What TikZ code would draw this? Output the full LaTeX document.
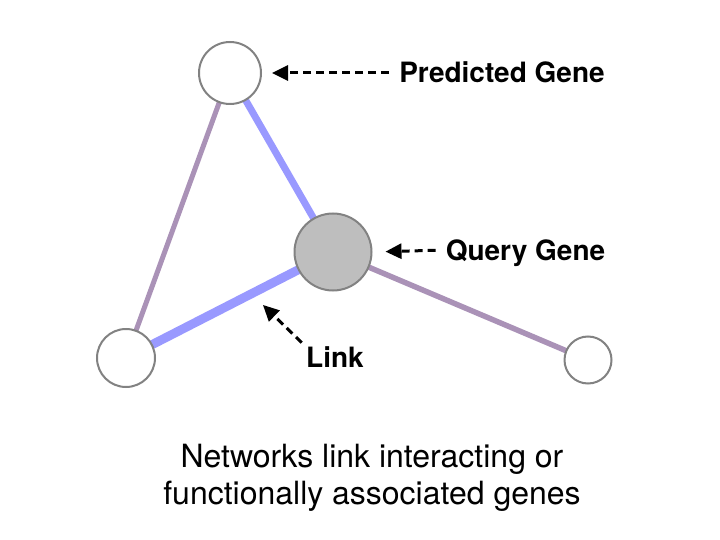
\documentclass[tikz,border=0pt]{standalone}
\usepackage{fontspec}
\setmainfont{TeX Gyre Heros}
\usetikzlibrary{graphs}
\usetikzlibrary{arrows.meta,backgrounds}
\definecolor{linkblue}{HTML}{9999FF}
\definecolor{linkmauve}{HTML}{AA92B7}
\definecolor{genegray}{HTML}{BEBEBE}
\definecolor{rimgray}{HTML}{828282}
\tikzset{
	gene/.style={circle, draw=rimgray, line width=2pt, fill=white, inner sep=0pt},
	bluelink/.style={draw=linkblue, line width=#1},
	mauvelink/.style={draw=linkmauve, line width=#1},
	pointer/.style={dash pattern=on 8pt off 5pt, line width=3pt,
			-{Triangle[length=16pt, width=15pt]}},
	tag/.style={font=\bfseries\fontsize{28}{33}\selectfont, inner sep=0pt,
			text height=20pt, text depth=0pt}
}

\begin{document}
\begin{tikzpicture}[x=1pt, y=-1pt]
	\useasboundingbox (0,0) rectangle (720,540);
	\graph[no placement, nodes={gene}]{
		pred/{}[at={(230,73)}, minimum size=62pt];
		query/{}[at={(333,252)}, minimum size=77pt, fill=genegray];
		left/{}[at={(126,358)}, minimum size=58pt];
		right/{}[at={(588,360)}, minimum size=47pt];
	};
	\begin{scope}[on background layer]
		\draw[mauvelink=5pt] (pred.center) -- (left.center);
		\draw[bluelink=7pt] (pred.center) -- (query.center);
		\draw[bluelink=9pt] (query.center) -- (left.center) coordinate[pos=0.394] (linkmid);
		\draw[mauvelink=5.5pt] (query.center) -- (right.center);
	\end{scope}
	% labels
	\node[tag] (predtag) at (502,73) {Predicted Gene};
	\node[tag] (querytag) at (525.5,250) {Query Gene};
	\node[tag] (linktag) at (335,357) {Link};
	\draw[pointer, shorten <=10pt, shorten >=10pt] (predtag.west) -- (pred.east);
	\draw[pointer, shorten <=10pt, shorten >=13pt] (querytag.west) -- (query.east);
	\draw[pointer, shorten <=6pt, shorten >=16pt] (linktag.north west) -- (linkmid);
	\node[anchor=north, inner sep=0pt, align=center, font=\fontsize{32}{37}\selectfont] (caption) at (372,444)
		{Networks link interacting or\\functionally associated genes};
\end{tikzpicture}
\end{document}
